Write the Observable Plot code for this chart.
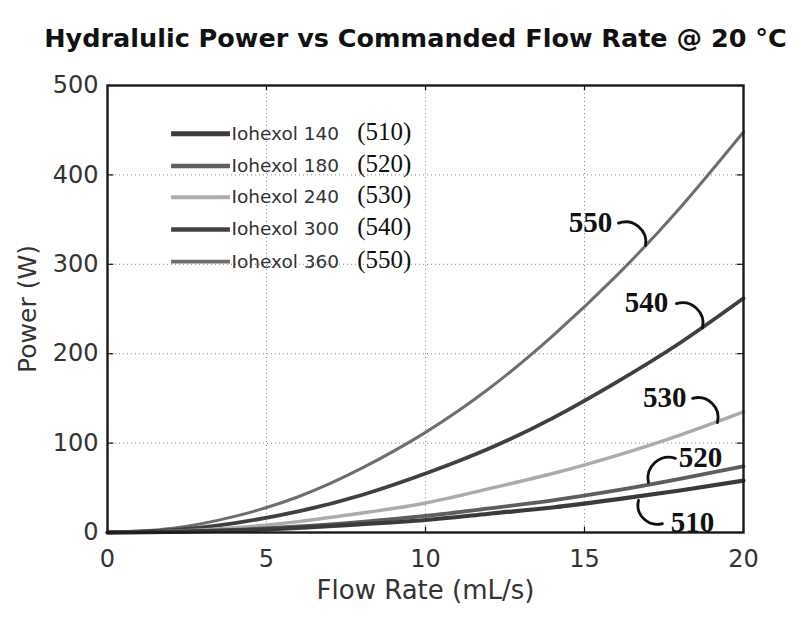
<!DOCTYPE html>
<html>
<head>
<meta charset="utf-8">
<script src="https://cdn.jsdelivr.net/npm/d3@7"></script>
<script src="https://cdn.jsdelivr.net/npm/@observablehq/plot@0.6"></script>
<style>
  html, body { margin: 0; padding: 0; background: #fff; }
  #chart svg { display: block; }
</style>
</head>
<body>
<div id="chart"></div>
<script>
// ---- data ----
const flow = [0, 2, 4, 6, 8, 10, 12, 14, 16, 18, 20];
const p510 = [0, 0.6, 2.3, 5.2, 9.3, 14, 21, 28, 37, 47, 58];
const p520 = [0, 0.7, 3.0, 6.7, 12, 18.5, 27, 36, 47, 60, 74];
const p530 = [0, 1.4, 5.4, 12.2, 21.8, 33, 49, 66, 86, 109, 135];
const p540 = [0, 2.6, 10.5, 23.6, 42, 66, 94, 128, 168, 212, 262];
const p550 = [0, 4.5, 18, 40, 72, 112, 161, 220, 287, 363, 448];

const seriesNames = ["Iohexol 140", "Iohexol 180", "Iohexol 240", "Iohexol 300", "Iohexol 360"];
const seriesRefs = ["(510)", "(520)", "(530)", "(540)", "(550)"];
const seriesValues = [p510, p520, p530, p540, p550];
const seriesColors = ["#3a3a3a", "#5e5e5e", "#ababab", "#404040", "#6e6e6e"];
const seriesWidths = [4.2, 3.8, 3.4, 3.8, 3];

const xTicks = [0, 5, 10, 15, 20];
const yTicks = [0, 100, 200, 300, 400, 500];

// legend rows (power value at which each legend row sits)
const legendY = [446, 410, 375, 339, 303];

// callout annotations: label position and leader endpoints (data units)
const callouts = [
  {label: "550", x: 15.19, y: 347, x1: 16.07, y1: 346, x2: 16.92, y2: 321, bend: 60},
  {label: "540", x: 16.95, y: 257, x1: 17.89, y1: 256, x2: 18.71, y2: 229, bend: 60},
  {label: "530", x: 17.52, y: 151, x1: 18.40, y1: 150, x2: 19.18, y2: 123, bend: 60},
  {label: "520", x: 18.65, y: 84, x1: 17.86, y1: 83, x2: 17.01, y2: 56, bend: -60},
  {label: "510", x: 18.40, y: 11, x1: 17.45, y1: 10, x2: 16.70, y2: 36, bend: 60}
];

// ---- build tables ----
const rows = [];
seriesValues.forEach((vals, i) => {
  vals.forEach((v, j) => rows.push({series: i, flow: flow[j], power: v}));
});
const legendRows = seriesNames.map((n, i) => ({i, name: n, ref: seriesRefs[i], y: legendY[i]}));

const sans = "'DejaVu Sans', Verdana, sans-serif";
const serif = "'Liberation Serif', 'Times New Roman', serif";

const marks = [
  // grid
  Plot.gridX(xTicks, {stroke: "#888", strokeOpacity: 1, strokeDasharray: "1,3", strokeWidth: 1}),
  Plot.gridY(yTicks, {stroke: "#888", strokeOpacity: 1, strokeDasharray: "1,3", strokeWidth: 1}),
  // inward ticks on all four sides
  Plot.ruleY(yTicks, {y: d => d, x1: 0, x2: 0.2, stroke: "#111", strokeWidth: 1.2}),
  Plot.ruleY(yTicks, {y: d => d, x1: 19.8, x2: 20, stroke: "#111", strokeWidth: 1.2}),
  Plot.ruleX(xTicks, {x: d => d, y1: 0, y2: 6, stroke: "#111", strokeWidth: 1.2}),
  Plot.ruleX(xTicks, {x: d => d, y1: 494, y2: 500, stroke: "#111", strokeWidth: 1.2}),
  // axes labels
  Plot.axisX({ticks: xTicks, tickSize: 0, tickPadding: 17, fontSize: 24, fontFamily: sans, fill: "#333", label: null}),
  Plot.axisY({ticks: yTicks, tickSize: 0, tickPadding: 9, fontSize: 24, fontFamily: sans, fill: "#333", label: null}),
  // series lines (drawn from back to front)
  ...seriesValues.map((_, i) => Plot.line(rows.filter(r => r.series === i), {
    x: "flow", y: "power", curve: "natural",
    stroke: seriesColors[i], strokeWidth: seriesWidths[i]
  })).reverse(),
  // frame
  Plot.frame({stroke: "#1a1a1a", strokeWidth: 2.4}),
  // legend
  Plot.link(legendRows, {x1: 2.0, x2: 3.85, y1: "y", y2: "y",
    stroke: d => seriesColors[d.i], strokeWidth: d => seriesWidths[d.i] + 0.8}),
  Plot.text(legendRows, {x: 3.9, y: "y", text: "name", textAnchor: "start",
    fontSize: 18.5, fontFamily: sans, fill: "#333"}),
  Plot.text(legendRows, {x: 7.85, y: "y", text: "ref", textAnchor: "start",
    fontSize: 25, fontFamily: serif, fill: "#111", dy: -2, style: {letterSpacing: "2.5px"}}),
  // callouts (clockwise and counter-clockwise hooks)
  Plot.arrow(callouts.filter(d => d.bend > 0), {x1: "x1", y1: "y1", x2: "x2", y2: "y2", bend: 60,
    headLength: 0, stroke: "#111", strokeWidth: 2.8}),
  Plot.arrow(callouts.filter(d => d.bend < 0), {x1: "x1", y1: "y1", x2: "x2", y2: "y2", bend: -60,
    headLength: 0, stroke: "#111", strokeWidth: 2.8}),
  Plot.text(callouts, {x: "x", y: "y", text: "label", fontSize: 29, fontWeight: "bold",
    fontFamily: serif, fill: "#111"}),
  // axis titles and chart title
  Plot.text(["Flow Rate (mL/s)"], {frameAnchor: "bottom", dy: 58, text: d => d, textAnchor: "middle",
    fontSize: 26, fontFamily: sans, fill: "#333", lineAnchor: "middle"}),
  Plot.text(["Power (W)"], {frameAnchor: "left", dx: -80, rotate: -90, text: d => d, textAnchor: "middle",
    fontSize: 25, fontFamily: sans, fill: "#333", lineAnchor: "middle"}),
  Plot.text(["Hydralulic Power vs Commanded Flow Rate @ 20 °C"], {frameAnchor: "top", dy: -47,
    text: d => d, textAnchor: "middle", dx: -10,
    fontSize: 25.5, fontWeight: "bold", fontFamily: sans, fill: "#111", lineAnchor: "middle"})
];

const chart = Plot.plot({
  width: 800,
  height: 618,
  marginLeft: 107,
  marginRight: 57,
  marginTop: 85,
  marginBottom: 86,
  style: {background: "#fff", overflow: "visible"},
  x: {domain: [0, 20]},
  y: {domain: [0, 500]},
  marks
});
document.getElementById("chart").appendChild(chart);
</script>
</body>
</html>
